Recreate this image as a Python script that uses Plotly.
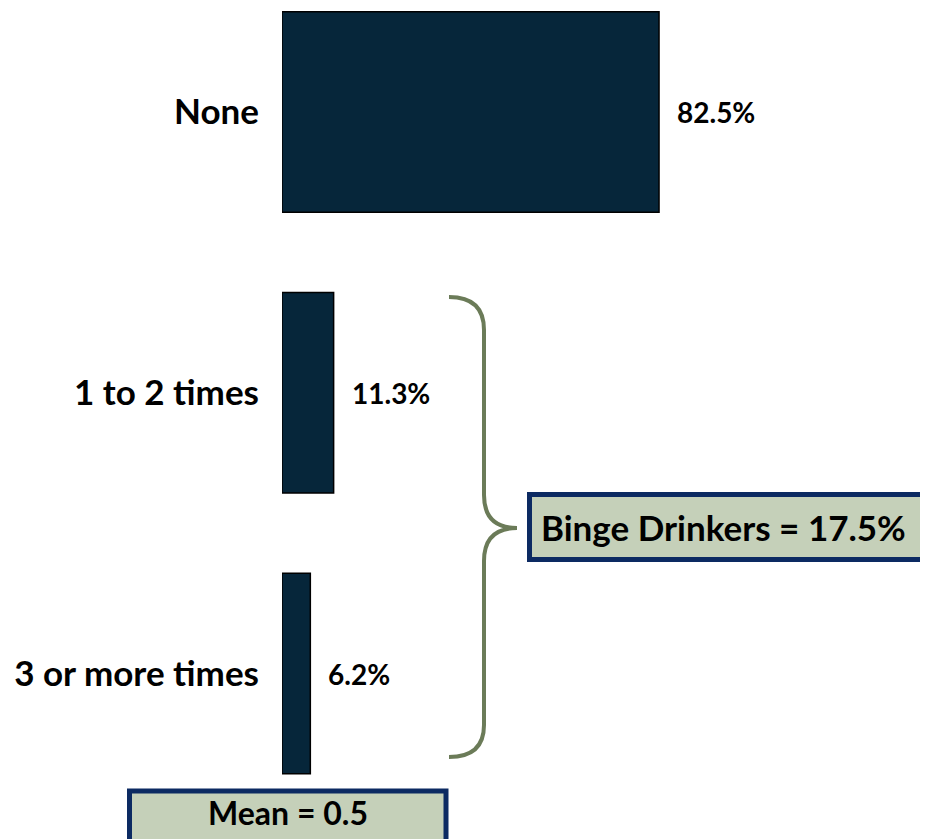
import plotly.graph_objects as go

categories = ["None", "1 to 2 times", "3 or more times"]
values = [82.5, 11.3, 6.2]
value_labels = ["82.5%", "11.3%", "6.2%"]
group_label = "Binge Drinkers = 17.5%"
mean_label = "Mean = 0.5"

OFF = 8  # page body margin
W, H = 928 - OFF, 839 - OFF
L = 282 - OFF
PW = 457
R = W - L - PW
XMAX = 100.0

def px(x):
    return (x - OFF - L) / PW

def py(y):
    return 1 - (y - OFF) / H

BAR_COLOR = "#06263a"
BOX_FILL = "#c5d0b9"
BOX_LINE = "#0c2a62"
BRACE = "#6b7b58"
FONT = "Lato"

ypos = list(range(len(categories)))
unit = 280.75
top_val = -(112 - OFF) / unit
bot_val = top_val + H / unit

fig = go.Figure()
fig.add_trace(go.Bar(
    x=values, y=ypos, orientation="h", width=0.715,
    marker=dict(color=BAR_COLOR, line=dict(color="#000000", width=1.5)),
    hoverinfo="skip", showlegend=False,
))

for i, (v, t) in enumerate(zip(values, value_labels)):
    fig.add_annotation(x=v, y=i, xref="x", yref="y", text="<b>" + t + "</b>",
                       xanchor="left", yanchor="middle", xshift=16, showarrow=False,
                       font=dict(family=FONT, size=28, color="#000000"))

fig.update_layout(
    width=W, height=H,
    margin=dict(l=L, r=R, t=0, b=0),
    paper_bgcolor="white", plot_bgcolor="white",
    xaxis=dict(range=[0, XMAX], visible=False),
    yaxis=dict(range=[bot_val, top_val], tickvals=ypos,
               ticktext=["<b>" + c + "</b>" for c in categories],
               showgrid=False, zeroline=False, showline=False, ticks="",
               ticklabelstandoff=22,
               tickfont=dict(family=FONT, size=35, color="#000000")),
    showlegend=False,
)

# brace
pts = [(449, 297), (484, 297), (484, 330), (484, 495), (484, 528), (517, 528),
       (484, 528), (484, 561), (484, 725), (484, 757), (449, 757)]
P = [(px(a), py(b)) for a, b in pts]
path = (f"M {P[0][0]},{P[0][1]} Q {P[1][0]},{P[1][1]} {P[2][0]},{P[2][1]} "
        f"L {P[3][0]},{P[3][1]} Q {P[4][0]},{P[4][1]} {P[5][0]},{P[5][1]} "
        f"Q {P[6][0]},{P[6][1]} {P[7][0]},{P[7][1]} "
        f"L {P[8][0]},{P[8][1]} Q {P[9][0]},{P[9][1]} {P[10][0]},{P[10][1]}")
fig.add_shape(type="path", path=path, xref="paper", yref="paper",
              line=dict(color=BRACE, width=4))

# binge box
fig.add_shape(type="rect", xref="paper", yref="paper",
              x0=px(529.5), x1=px(945), y0=py(494.5), y1=py(559.5),
              fillcolor=BOX_FILL, line=dict(color=BOX_LINE, width=5))
fig.add_annotation(xref="paper", yref="paper", x=px(723), y=py(527),
                   text="<b>" + group_label + "</b>", showarrow=False,
                   xanchor="center", yanchor="middle",
                   font=dict(family=FONT, size=35, color="#000000"))

# mean box
fig.add_shape(type="rect", xref="paper", yref="paper",
              x0=px(129.5), x1=px(446), y0=py(791), y1=py(850),
              fillcolor=BOX_FILL, line=dict(color=BOX_LINE, width=5))
fig.add_annotation(xref="paper", yref="paper", x=px(287.5), y=py(812),
                   text="<b>" + mean_label + "</b>", showarrow=False,
                   xanchor="center", yanchor="middle",
                   font=dict(family=FONT, size=32, color="#000000"))

fig.write_html("out.html")
